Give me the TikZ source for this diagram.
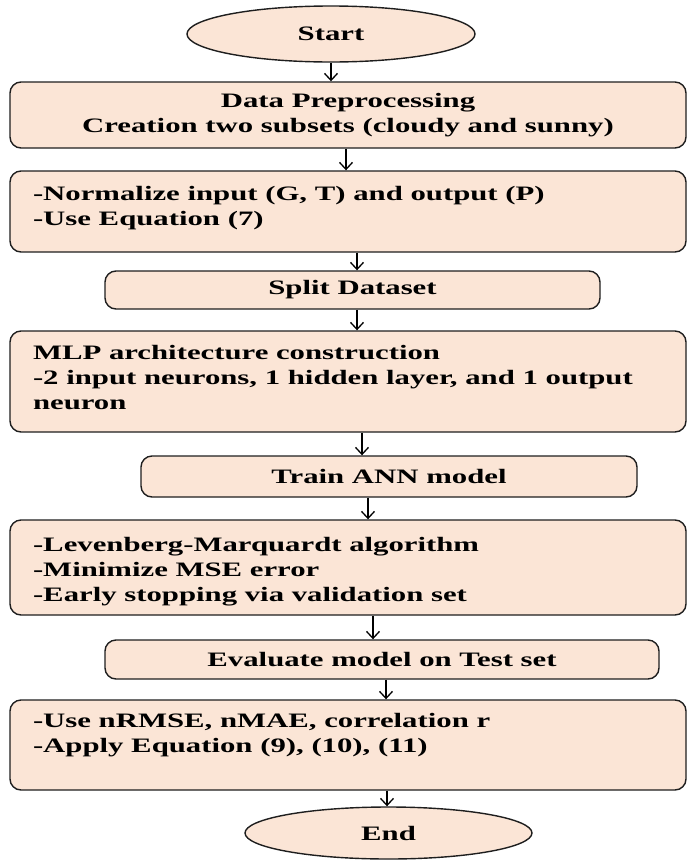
\documentclass[tikz,border=0pt]{standalone}
\usepackage{fontspec}
\setmainfont{Liberation Serif}[FakeStretch=1.5]
\usepackage{tikz}
\usepackage{xcolor}
\usetikzlibrary{arrows.meta}
\usetikzlibrary{shapes}
\definecolor{peach}{HTML}{FBE5D6}
\definecolor{edge}{HTML}{1E1E1E}

\begin{document}
\begin{tikzpicture}[x=1pt,y=-1pt,
  font=\fontsize{20.5}{25}\selectfont\bfseries,
  panel/.style={draw=edge,line width=1.4pt,fill=peach,rounded corners=11pt,inner sep=0pt},
  oval/.style={ellipse,draw=edge,line width=1.4pt,fill=peach,inner sep=0pt},
  flow/.style={-{Straight Barb[length=7pt,width=13pt]},line width=1.3pt,black}]
\useasboundingbox (0,0) rectangle (688,860);
\node (start) [oval,minimum width=288pt,minimum height=56pt] at (331,34) {Start};
\node (prep) [panel,minimum width=676pt,minimum height=66pt,align=center] at (348,115)
  {Data Preprocessing\\Creation two subsets (cloudy and sunny)};
\node (norm) [panel,inner xsep=23pt] at (348,211.5)
  {\parbox[c][81pt][t]{630pt}{\rule{0pt}{29pt}-Normalize input (G, T) and output (P)\\-Use Equation (7)}};
\node (split) [panel,minimum width=495pt,minimum height=38pt] at (352.5,290) {Split Dataset};
\node (mlp) [panel,inner xsep=23pt] at (348,381.5)
  {\parbox[c][101pt][t]{630pt}{\rule{0pt}{28pt}MLP architecture construction\\-2 input neurons, 1 hidden layer, and 1 output\\neuron}};
\node (train) [panel,minimum width=496pt,minimum height=41pt] at (389,476.5) {Train ANN model};
\node (lm) [panel,inner xsep=23pt] at (348,567.5)
  {\parbox[c][95pt][t]{630pt}{\rule{0pt}{31pt}-Levenberg-Marquardt algorithm\\-Minimize MSE error\\-Early stopping via validation set}};
\node (eval) [panel,minimum width=554pt,minimum height=39pt] at (382,659.5) {Evaluate model on Test set};
\node (metric) [panel,inner xsep=23pt] at (348,745)
  {\parbox[c][90pt][t]{630pt}{\rule{0pt}{27pt}-Use nRMSE, nMAE, correlation r\\-Apply Equation (9), (10), (11)}};
\node (end) [oval,minimum width=287pt,minimum height=52pt] at (388.5,833) {End};
% connectors
\foreach \a/\b/\x in {start/prep/331,prep/norm/346,norm/split/357,split/mlp/357,mlp/train/362,
  train/lm/368,lm/eval/373,eval/metric/386,metric/end/387}
  \draw[flow] (\a.south -| \x,0) -- (\b.north -| \x,0);
\end{tikzpicture}
\end{document}
